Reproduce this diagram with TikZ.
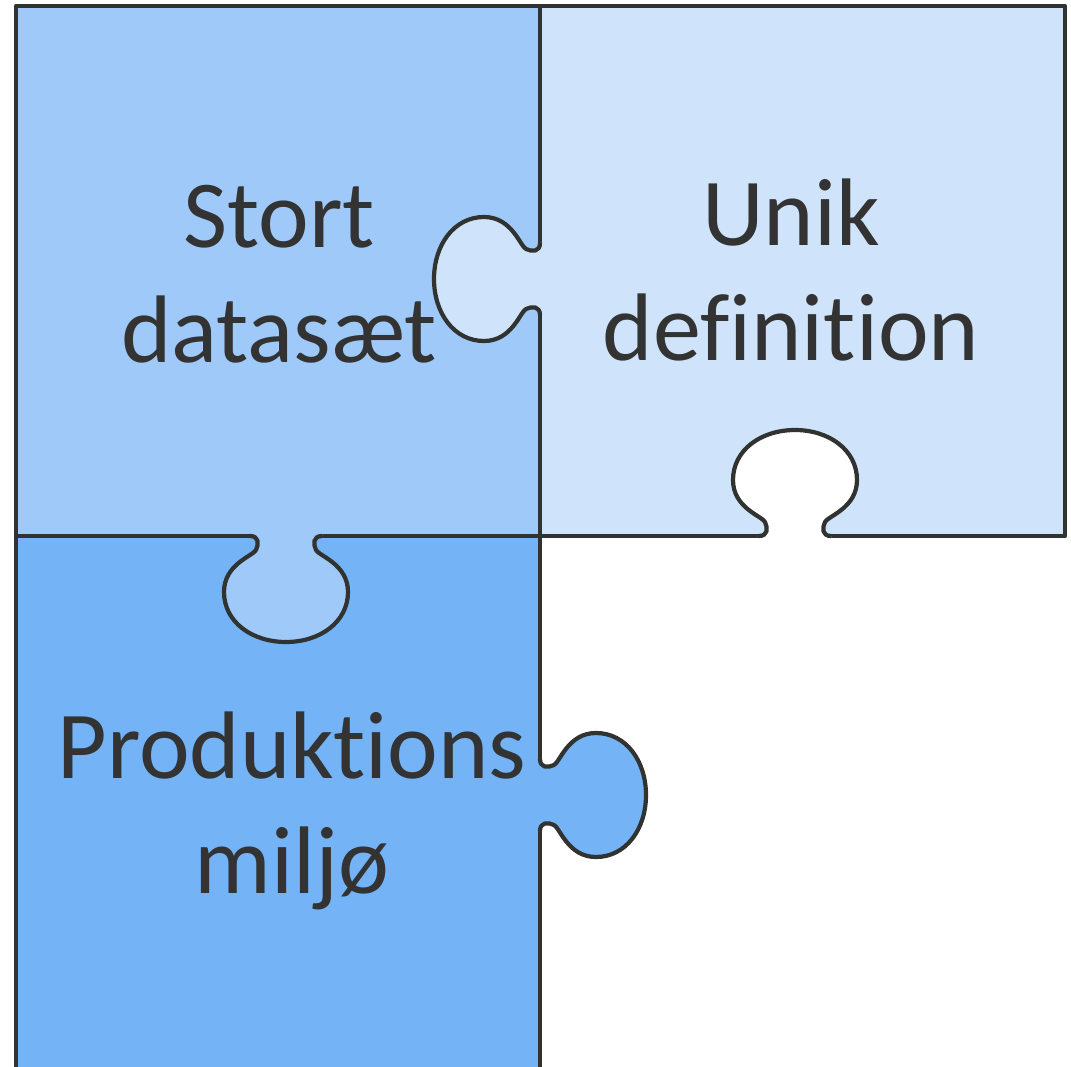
\documentclass[tikz,border=0pt]{standalone}
\usepackage{fontspec}
\setmainfont{Carlito}[Ligatures=NoCommon]
\definecolor{pA}{HTML}{9FC9F8}
\definecolor{pB}{HTML}{CFE4FA}
\definecolor{pC}{HTML}{74B3F6}
\definecolor{edge}{HTML}{303330}
\definecolor{txt}{HTML}{333333}
\newcommand\knobline{(-36,0) .. controls (-27,0) and (-27,8) .. (-30,14)
  .. controls (-33,20) and (-62,28) .. (-62,56)
  .. controls (-62,86) and (-34,106) .. (0,106)
  .. controls (34,106) and (62,86) .. (62,56)
  .. controls (62,28) and (33,20) .. (30,14)
  .. controls (27,8) and (27,0) .. (36,0)}
\begin{document}
\begin{tikzpicture}[x=1pt,y=-1pt,line width=4.2pt,line join=round,
  piece/.style={draw=edge},
  lbl/.style={font=\fontsize{96}{115}\selectfont,text=txt,align=center,inner sep=0pt}]
\useasboundingbox (0,0) rectangle (1071,1067);
\clip (0,0) rectangle (1071,1067);
% pieces
\filldraw[piece,fill=pC] (16,536) rectangle (540,1090);
\filldraw[piece,fill=pA] (16,6) rectangle (540,536);
\filldraw[piece,fill=pB] (540,6) rectangle (1065,536);
% knob: top-right piece into top-left piece
\begin{scope}[shift={(540,279)},rotate=-90]
  \fill[pB] \knobline -- (36,-3) -- (-36,-3) -- cycle;
  \draw[edge] \knobline;
\end{scope}
% knob: top-left piece into bottom piece
\begin{scope}[shift={(286,536)}]
  \fill[pA] \knobline -- (36,-3) -- (-36,-3) -- cycle;
  \draw[edge] \knobline;
\end{scope}
% hole in top-right piece
\begin{scope}[shift={(795,536)},yscale=-1]
  \fill[white] \knobline -- (36,-3) -- (-36,-3) -- cycle;
  \draw[edge] \knobline;
\end{scope}
% knob: bottom piece to the right
\begin{scope}[shift={(540,795)},rotate=90]
  \fill[pC] \knobline -- (36,-3) -- (-36,-3) -- cycle;
  \draw[edge] \knobline;
\end{scope}
% labels
\node[lbl,anchor=base] (stort) at (279,362) {Stort\\datasæt};
\node[lbl,anchor=base] (unik) at (791,360) {Unik\\definition};
\node[lbl,anchor=base] (prod) at (292,893) {Produktions\\miljø};
\end{tikzpicture}
\end{document}
